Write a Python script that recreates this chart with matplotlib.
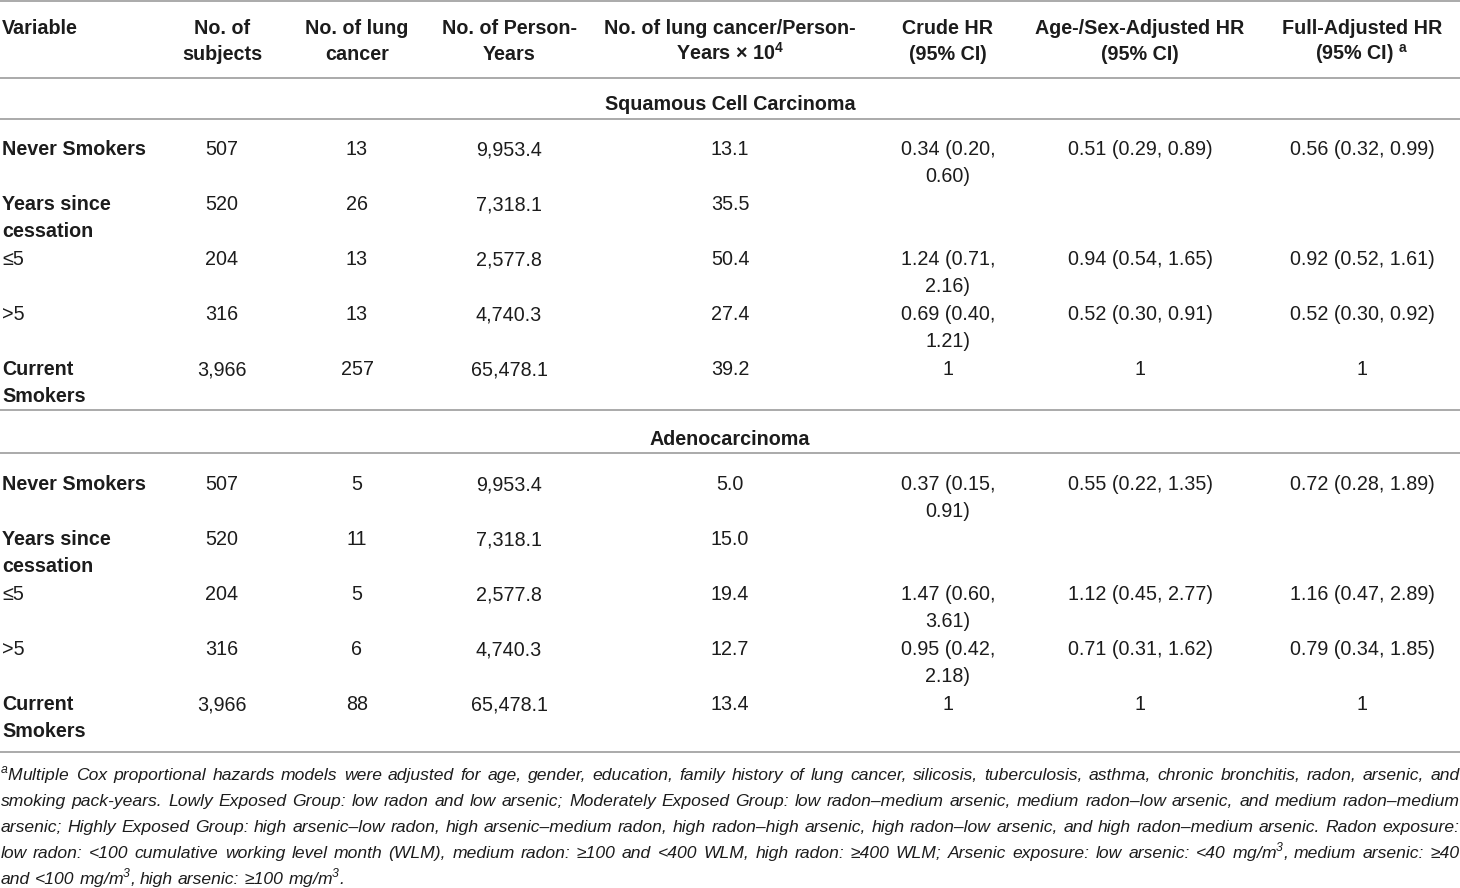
import matplotlib
matplotlib.use("Agg")
import matplotlib.pyplot as plt
from matplotlib import font_manager

plt.rcParams['font.family'] = ['Liberation Sans', 'DejaVu Sans']

# ---------------- data ----------------
header_cols = [["Variable"],
               ["No. of", "subjects"],
               ["No. of lung", "cancer"],
               ["No. of Person-", "Years"],
               ["No. of lung cancer/Person-", "Years \u00d7 10$^{\\mathdefault{4}}$"],
               ["Crude HR", "(95% CI)"],
               ["Age-/Sex-Adjusted HR", "(95% CI)"],
               ["Full-Adjusted HR", "(95% CI) $^{\\mathdefault{a}}$"]]

section_titles = ["Squamous Cell Carcinoma", "Adenocarcinoma"]

variables = ["Never Smokers", "Years since\ncessation", "\u22645", ">5", "Current\nSmokers"]
variable_bold = [True, True, False, False, True]

subjects = ["507", "520", "204", "316", "3,966"]
person_years = ["9,953.4", "7,318.1", "2,577.8", "4,740.3", "65,478.1"]

scc_cases = ["13", "26", "13", "13", "257"]
scc_rate = ["13.1", "35.5", "50.4", "27.4", "39.2"]
scc_crude = ["0.34 (0.20, 0.60)", "", "1.24 (0.71, 2.16)", "0.69 (0.40, 1.21)", "1"]
scc_agesex = ["0.51 (0.29, 0.89)", "", "0.94 (0.54, 1.65)", "0.52 (0.30, 0.91)", "1"]
scc_full = ["0.56 (0.32, 0.99)", "", "0.92 (0.52, 1.61)", "0.52 (0.30, 0.92)", "1"]

adc_cases = ["5", "11", "5", "6", "88"]
adc_rate = ["5.0", "15.0", "19.4", "12.7", "13.4"]
adc_crude = ["0.37 (0.15, 0.91)", "", "1.47 (0.60, 3.61)", "0.95 (0.42, 2.18)", "1"]
adc_agesex = ["0.55 (0.22, 1.35)", "", "1.12 (0.45, 2.77)", "0.71 (0.31, 1.62)", "1"]
adc_full = ["0.72 (0.28, 1.89)", "", "1.16 (0.47, 2.89)", "0.79 (0.34, 1.85)", "1"]

footnote_lines = [
    "$^{\\mathdefault{a}}$Multiple Cox proportional hazards models were adjusted for age, gender, education, family history of lung cancer, silicosis, tuberculosis, asthma, chronic bronchitis, radon, arsenic, and",
    "smoking pack-years. Lowly Exposed Group: low radon and low arsenic; Moderately Exposed Group: low radon\u2013medium arsenic, medium radon\u2013low arsenic, and medium radon\u2013medium",
    "arsenic; Highly Exposed Group: high arsenic\u2013low radon, high arsenic\u2013medium radon, high radon\u2013high arsenic, high radon\u2013low arsenic, and high radon\u2013medium arsenic. Radon exposure:",
    "low radon: <100 cumulative working level month (WLM), medium radon: \u2265100 and <400 WLM, high radon: \u2265400 WLM; Arsenic exposure: low arsenic: <40 mg/m$^{\\mathdefault{3}}$, medium arsenic: \u226540",
    "and <100 mg/m$^{\\mathdefault{3}}$, high arsenic: \u2265100 mg/m$^{\\mathdefault{3}}$.",
]

# ---------------- layout ----------------
W, H = 1460, 888
fig = plt.figure(figsize=(W / 100, H / 100), dpi=100)
ax = fig.add_axes([0, 0, 1, 1])
ax.set_xlim(0, W)
ax.set_ylim(H, 0)
ax.axis('off')

TXT = '#1c1c1c'
LINE = '#9c9c9c'
FS = 14.2
col_x = [2, 222, 357, 509, 730, 948, 1140, 1362]
line_gap = 27

# rules
for y in [0.8, 78, 119, 410, 453, 752]:
    ax.plot([0, W], [y, y], color=LINE, lw=1.2, solid_capstyle='butt')

# header
for ci, lines in enumerate(header_cols):
    for li, s in enumerate(lines):
        ax.text(col_x[ci], 34 + li * 26, s, fontsize=FS, fontweight='bold',
                ha='left' if ci == 0 else 'center', va='baseline', color=TXT)


def cell(x, y, s, bold=False, ha='center', wrap=False):
    if wrap:
        s = s.replace(", ", ",\n")
    for li, part in enumerate(s.split("\n")):
        ax.text(x, y + li * line_gap, part, fontsize=FS,
                fontweight='bold' if bold else 'normal',
                ha=ha, va='baseline', color=TXT)


sections = [
    (110, 155, scc_cases, scc_rate, scc_crude, scc_agesex, scc_full),
    (445, 490, adc_cases, adc_rate, adc_crude, adc_agesex, adc_full),
]
for (ty, y0, cases, rate, crude, agesex, full), title in zip(sections, section_titles):
    ax.text(W / 2, ty, title, fontsize=FS, fontweight='bold', ha='center',
            va='baseline', color=TXT)
    for r in range(len(variables)):
        y = y0 + r * 55
        cell(col_x[0], y, variables[r], bold=variable_bold[r], ha='left')
        cell(col_x[1], y, subjects[r])
        cell(col_x[2], y, cases[r])
        cell(col_x[3], y, person_years[r])
        cell(col_x[4], y, rate[r])
        cell(col_x[5], y, crude[r], wrap=True)
        cell(col_x[6], y, agesex[r])
        cell(col_x[7], y, full[r])

# footnote (justified)
names = {f.name for f in font_manager.fontManager.ttflist}
fn_family = ['Liberation Sans']
for cand in ['Liberation Sans Narrow', 'DejaVu Sans Condensed', 'Arial Narrow']:
    if cand in names:
        fn_family = [cand]
        break
fn_family = fn_family + ['DejaVu Sans']

renderer = fig.canvas.get_renderer()


def measure(word, fs):
    t = ax.text(0, 0, word, fontsize=fs, style='italic', family=fn_family)
    w = t.get_window_extent(renderer).width
    t.remove()
    return w


fs0 = 13.0
space0 = measure("a a", fs0) - measure("aa", fs0)
natural = []
for line in footnote_lines[:-1]:
    words = line.split(" ")
    natural.append(sum(measure(w, fs0) for w in words) + space0 * (len(words) - 1))
fs_fn = min(13.6, fs0 * 1440.0 / max(natural))

space = measure("a a", fs_fn) - measure("aa", fs_fn)
for li, line in enumerate(footnote_lines):
    y = 780 + li * 26
    words = line.split(" ")
    texts = [ax.text(0, y, w, fontsize=fs_fn, style='italic', family=fn_family,
                     ha='left', va='baseline', color=TXT) for w in words]
    widths = [t.get_window_extent(renderer).width for t in texts]
    if li < len(footnote_lines) - 1 and len(words) > 1:
        gap = (W - 1 - sum(widths)) / (len(words) - 1)
    else:
        gap = space
    x = 0.5
    for t, w in zip(texts, widths):
        t.set_x(x)
        x += w + gap

fig.savefig("out.png", dpi=100)
